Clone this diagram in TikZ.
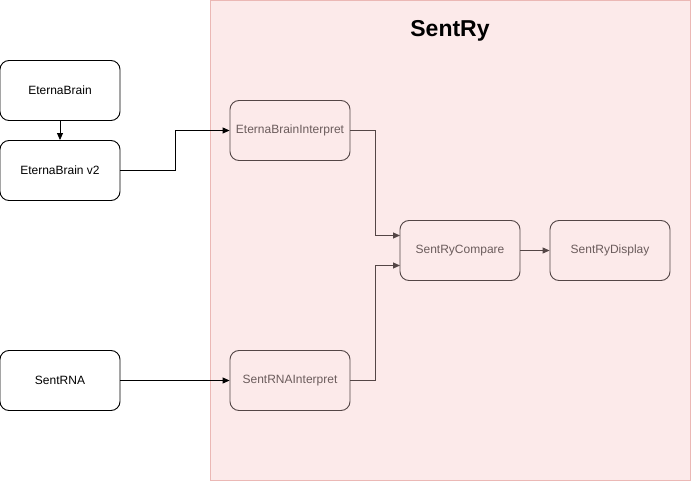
\documentclass[tikz,border=0pt]{standalone}
\usepackage{fontspec}
\setmainfont{Liberation Sans}
\usetikzlibrary{arrows.meta}
\definecolor{contfill}{HTML}{FCEAEA}
\definecolor{contborder}{HTML}{EBB8B5}
\definecolor{inborder}{HTML}{544646}
\definecolor{intext}{HTML}{6B5C5C}
\tikzset{
  outbox/.style={draw=black, fill=white, rounded corners=9pt, minimum width=120pt, minimum height=60pt, inner sep=0pt, font=\fontsize{12}{14}\selectfont, line width=0.9pt},
  inbox/.style={draw=inborder, rounded corners=9pt, minimum width=120pt, minimum height=60pt, inner sep=0pt, text=intext, font=\fontsize{12}{14}\selectfont, line width=0.9pt},
  outarrow/.style={draw=black, line width=0.9pt, -{Triangle[length=7pt,width=6pt]}},
  inarrow/.style={draw=inborder, line width=0.9pt, -{Triangle[length=7pt,width=6pt]}},
}
\begin{document}
\begin{tikzpicture}[x=1pt,y=-1pt]
\useasboundingbox (0,0) rectangle (691,481);
\fill[white] (0,0) rectangle (691,481);
\draw[fill=contfill, draw=contborder, line width=0.9pt] (210.5,0.5) rectangle (690.5,480.5);
\node[font=\fontsize{23}{27}\selectfont\bfseries] (title) at (450,31) {SentRy};
\node[outbox] (eb) at (60,90.5) {EternaBrain};
\node[outbox] (eb2) at (60,170.5) {EternaBrain v2};
\node[outbox] (srna) at (60,380.5) {SentRNA};
\node[inbox] (ebi) at (290,130.5) {EternaBrainInterpret};
\node[inbox] (sri) at (290,380.5) {SentRNAInterpret};
\node[inbox] (cmp) at (460,250.5) {SentRyCompare};
\node[inbox] (disp) at (610,250.5) {SentRyDisplay};
\coordinate (cmpin1) at (400,235.5);
\coordinate (cmpin2) at (400,265.5);
\draw[outarrow] (eb) -- (eb2);
\draw[outarrow] (eb2.east) -- (175,170.5) -- (175,130.5) -- (ebi.west);
\draw[outarrow] (srna) -- (sri);
\draw[inarrow] (ebi.east) -- (375,130.5) -- (375,235.5) -- (cmpin1);
\draw[inarrow] (sri.east) -- (375,380.5) -- (375,265.5) -- (cmpin2);
\draw[inarrow] (cmp) -- (disp);
\end{tikzpicture}
\end{document}
